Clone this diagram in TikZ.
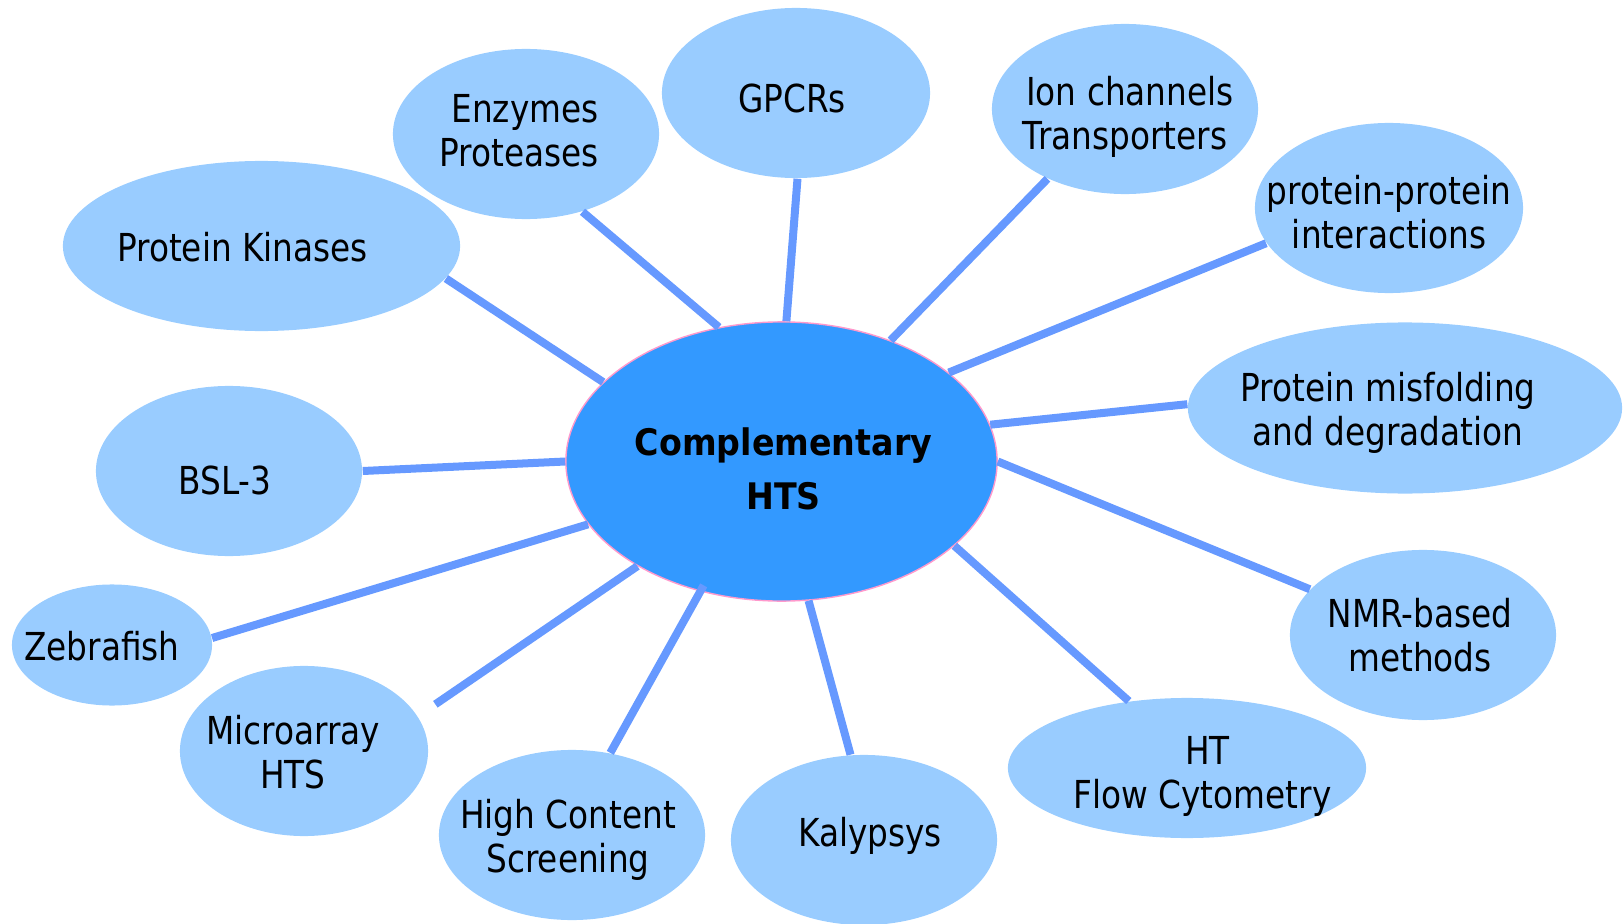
\documentclass[tikz,border=0pt]{standalone}
\usepackage{fontspec}
\setmainfont{DejaVu Sans}[FakeStretch=0.85]
\newfontfamily\hubfont{DejaVu Sans}[FakeStretch=0.91]
\usetikzlibrary{shapes.geometric}
\definecolor{hubblue}{HTML}{3399FF}
\definecolor{leafblue}{HTML}{99CCFF}
\definecolor{spokeblue}{HTML}{6699FF}
\definecolor{rimpink}{HTML}{FF99CC}
% text moved by (dx,dy) inside its ellipse
\newcommand{\nudge}[4][c]{\raisebox{#3}[\height][\depth]{\hspace*{#2}\begin{tabular}{@{}#1@{}}#4\end{tabular}\hspace*{-#2}}}
\tikzset{
  leaf/.style={ellipse,fill=leafblue,inner xsep=-1cm,inner ysep=0pt,
    font=\fontsize{10.95}{12.5}\selectfont},
  link/.style={draw=spokeblue,line width=0.08cm}
}
\begin{document}
\begin{tikzpicture}[x=0.01cm,y=-0.01cm]
\useasboundingbox (0,0) rectangle (1623,924);
\node[ellipse,fill=hubblue,draw=rimpink,line width=0.4pt,inner xsep=-1cm,inner ysep=0pt,
  minimum width=4.31cm,minimum height=2.79cm,
  font=\hubfont\bfseries\fontsize{10.4}{15.4}\selectfont] (hub) at (781.5,461.5) {\nudge{0.02cm}{-0.105cm}{Complementary\\HTS}};
\node[leaf,minimum width=3.97cm,minimum height=1.70cm] (kin) at (261.5,246) {\nudge{-0.19cm}{-0.07cm}{Protein Kinases}};
\node[leaf,minimum width=2.66cm,minimum height=1.70cm] (enz) at (526,134) {\nudge[r]{-0.07cm}{-0.02cm}{Enzymes\\Proteases}};
\node[leaf,minimum width=2.68cm,minimum height=1.70cm] (gpcr) at (796,93) {\nudge{-0.04cm}{-0.11cm}{GPCRs}};
\node[leaf,minimum width=2.66cm,minimum height=1.70cm] (ion) at (1125,109) {\nudge{0cm}{-0.095cm}{\hspace*{0.1cm}Ion channels\\Transporters}};
\node[leaf,minimum width=2.68cm,minimum height=1.70cm] (ppi) at (1389,208) {\nudge{0cm}{-0.10cm}{protein-protein\\interactions}};
\node[leaf,minimum width=4.34cm,minimum height=1.71cm] (misf) at (1405,408) {\nudge{-0.17cm}{-0.065cm}{Protein misfolding\\and degradation}};
\node[leaf,minimum width=2.66cm,minimum height=1.70cm] (nmr) at (1423,635) {\nudge{-0.03cm}{-0.06cm}{NMR-based\\methods}};
\node[leaf,minimum width=3.58cm,minimum height=1.40cm] (flow) at (1187,768) {\nudge{0.155cm}{-0.095cm}{\hspace*{0.1cm}HT\\Flow Cytometry}};
\node[leaf,minimum width=2.66cm,minimum height=1.70cm] (kal) at (864,840) {\nudge{0.06cm}{0.02cm}{Kalypsys}};
\node[leaf,minimum width=2.66cm,minimum height=1.70cm] (hcs) at (572,835) {\nudge{-0.04cm}{-0.065cm}{High Content\\Screening}};
\node[leaf,minimum width=2.48cm,minimum height=1.70cm] (micro) at (304,751) {\nudge{-0.11cm}{-0.07cm}{Microarray\\HTS}};
\node[leaf,minimum width=2.00cm,minimum height=1.21cm] (zeb) at (112,645) {\nudge{-0.1cm}{-0.07cm}{Zebrafish}};
\node[leaf,minimum width=2.66cm,minimum height=1.70cm] (bsl) at (229,471) {\nudge{-0.04cm}{-0.15cm}{BSL-3}};
% spokes
\draw[link](kin.-10.5)--(hub.156);
\draw[link](enz.-54)--(hub.115.6);
\draw[link](gpcr.-89.3)--(hub.88.2);
\draw[link](ion.-138)--(hub.48.2);
\draw[link](ppi.-164)--(hub.28.2);
\draw[link](misf.179)--(hub.10.7);
\draw[link](nmr.158.5)--(hub.0.4);
\draw[link](flow.131.8)--(hub.-26);
\draw[link](kal.99.5)--(hub.-79.4);
\draw[link,shorten >=-0.07cm](hcs.65.8)--(hub.-122.1);
\draw[link,shorten <=0.21cm](micro.17)--(hub.-144.1);
\draw[link](zeb.4.5)--(hub.198.1);
\draw[link](bsl.0)--(hub.180);
\end{tikzpicture}
\end{document}
